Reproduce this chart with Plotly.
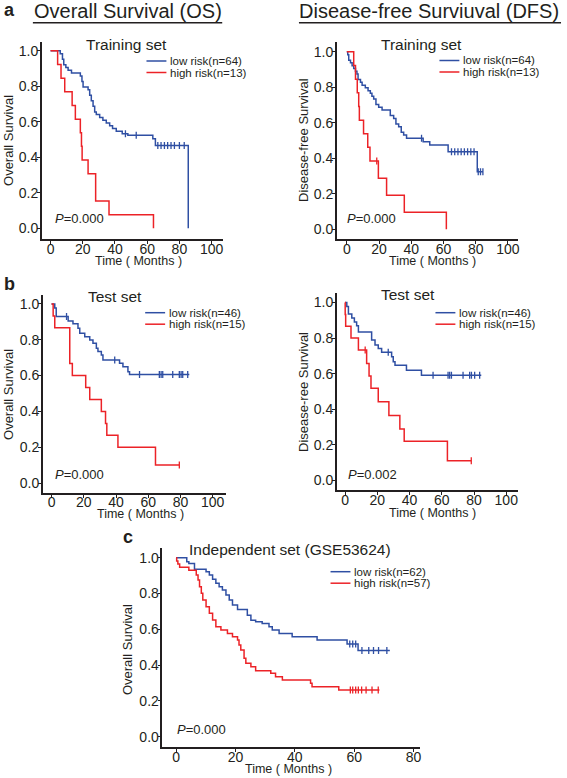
import plotly.graph_objects as go

W, H = 567, 778

# ---------------- data ----------------
x_ticks = [0, 20, 40, 60, 80, 100]
y_ticks = [0.0, 0.2, 0.4, 0.6, 0.8, 1.0]

# a: Training set, Overall Survival
os_train_low_t = [0, 6.0, 7.4, 8.2, 9.5, 10.9, 13.0, 18.5, 19.5, 20.2, 23.3, 24.3, 25.3, 26.4, 27.4, 28.4,
                  30.5, 32.5, 34.6, 36.7, 38.5, 40.8, 44.5, 48.0, 63.5, 65.1, 85.5]
os_train_low_s = [1.0, 0.984, 0.953, 0.922, 0.906, 0.891, 0.875, 0.859, 0.828, 0.797, 0.781, 0.750, 0.719,
                  0.688, 0.656, 0.641, 0.625, 0.609, 0.594, 0.578, 0.562, 0.547, 0.533, 0.524, 0.505, 0.467, 0.0]
os_train_low_cens = [46.5, 53.2, 66.6, 68.6, 70.7, 72.7, 74.8, 76.9, 80.0, 83.0]
os_train_high_t = [0, 4.4, 6.5, 8.8, 13.4, 15.4, 18.5, 19.2, 19.6, 23.3, 28.0, 36.3, 63.9]
os_train_high_s = [1.0, 0.923, 0.846, 0.769, 0.692, 0.615, 0.538, 0.462, 0.385, 0.308, 0.154, 0.077, 0.0]
os_train_high_cens = []

# a: Training set, Disease-free Survival
dfs_train_low_t = [0, 0.6, 1.2, 2.3, 3.3, 4.3, 5.4, 6.3, 7.0, 8.5, 9.5, 11.5, 13.2, 14.6, 15.6, 16.7, 18.1,
                   19.8, 21.9, 27.0, 29.1, 30.5, 32.2, 33.8, 35.3, 37.1, 47.4, 51.5, 62.9, 81.0, 84.5]
dfs_train_low_s = [1.0, 0.984, 0.953, 0.938, 0.922, 0.906, 0.891, 0.875, 0.844, 0.828, 0.812, 0.797, 0.781,
                   0.766, 0.750, 0.734, 0.703, 0.688, 0.672, 0.641, 0.625, 0.594, 0.578, 0.547, 0.531, 0.513,
                   0.494, 0.475, 0.437, 0.325, 0.325]
dfs_train_low_cens = [46.4, 65.0, 67.0, 69.0, 71.0, 73.0, 75.0, 77.0, 79.0, 81.6, 83.0, 84.5]
dfs_train_high_t = [0, 4.3, 5.4, 6.5, 7.4, 7.8, 10.4, 13.0, 14.4, 19.6, 24.7, 35.7, 61.8]
dfs_train_high_s = [1.0, 0.923, 0.846, 0.769, 0.692, 0.615, 0.538, 0.462, 0.385, 0.288, 0.192, 0.096, 0.0]
dfs_train_high_cens = [18.6]

# b: Test set, Overall Survival
os_test_low_t = [0, 2.0, 2.9, 10.3, 13.3, 16.4, 17.5, 20.6, 23.7, 25.7, 27.8, 28.8, 30.9, 31.9, 42.2, 44.3,
                 47.4, 48.4, 85.5]
os_test_low_s = [1.0, 0.978, 0.930, 0.905, 0.890, 0.864, 0.836, 0.817, 0.799, 0.780, 0.752, 0.734, 0.715,
                 0.687, 0.669, 0.650, 0.622, 0.606, 0.606]
os_test_low_cens = [9.3, 39.2, 54.6, 66.9, 68.0, 69.0, 75.2, 79.3, 80.4, 81.4, 84.5]
os_test_high_t = [0, 1.0, 2.0, 11.3, 12.9, 21.2, 23.7, 30.9, 33.5, 34.3, 41.2, 64.5, 79.3]
os_test_high_s = [1.0, 0.933, 0.867, 0.667, 0.600, 0.533, 0.467, 0.400, 0.333, 0.267, 0.200, 0.100, 0.100]
os_test_high_cens = [79.3]

# b: Test set, Disease-free Survival
dfs_test_low_t = [0, 1.1, 2.1, 4.2, 5.8, 7.2, 8.3, 16.5, 18.6, 20.6, 22.7, 28.9, 29.9, 31.0, 38.1, 47.4, 84.5]
dfs_test_low_s = [1.0, 0.978, 0.935, 0.913, 0.891, 0.870, 0.835, 0.789, 0.761, 0.742, 0.720, 0.695, 0.667,
                  0.648, 0.620, 0.592, 0.592]
dfs_test_low_cens = [26.8, 54.6, 63.9, 64.9, 66.0, 73.2, 77.3, 78.4, 80.4, 83.5]
dfs_test_high_t = [0, 0.1, 0.4, 3.7, 8.3, 13.4, 14.9, 16.1, 20.6, 27.2, 34.0, 36.7, 63.5, 78.3]
dfs_test_high_s = [1.0, 0.933, 0.867, 0.800, 0.733, 0.658, 0.587, 0.518, 0.443, 0.365, 0.290, 0.221, 0.111, 0.111]
dfs_test_high_cens = [12.5, 78.3]

# c: Independent set (GSE53624), Overall Survival
ind_low_t = [0, 3.6, 4.3, 6.2, 10.1, 11.2, 12.3, 13.4, 14.5, 15.6, 16.8, 17.9, 19.0, 20.7, 24.0, 25.2, 26.8,
             29.0, 31.3, 32.4, 34.7, 39.1, 47.5, 57.6, 61.3, 72.0]
ind_low_s = [1.0, 0.977, 0.968, 0.935, 0.922, 0.903, 0.879, 0.857, 0.838, 0.819, 0.791, 0.763, 0.735, 0.711,
             0.679, 0.651, 0.642, 0.633, 0.614, 0.596, 0.577, 0.558, 0.540, 0.518, 0.481, 0.481]
ind_low_cens = [58.5, 59.5, 60.5, 62.6, 64.9, 66.5, 68.2, 71.0]
ind_high_t = [0, 0.2, 0.6, 1.2, 4.3, 6.8, 7.4, 7.9, 8.5, 9.0, 10.1, 11.2, 12.3, 13.4, 15.1, 17.3, 19.0, 20.7,
              21.2, 21.8, 22.9, 23.5, 25.2, 26.8, 31.9, 33.5, 35.8, 45.3, 45.8, 54.8, 68.5]
ind_high_s = [1.0, 0.982, 0.965, 0.947, 0.930, 0.903, 0.875, 0.838, 0.801, 0.763, 0.726, 0.689, 0.652, 0.614,
              0.596, 0.577, 0.559, 0.540, 0.512, 0.484, 0.438, 0.410, 0.391, 0.369, 0.354, 0.335, 0.317, 0.298,
              0.279, 0.261, 0.261]
ind_high_cens = [58.7, 59.5, 60.5, 61.4, 62.5, 64.0, 66.0, 68.1]

# ---------------- styling ----------------
BLUE = "#2f4fa3"
RED = "#ec2227"
INK = "#231f20"
FONT = "Liberation Sans, Arial, Helvetica, sans-serif"


def px(x):
    return x / W


def py(y):
    return 1 - y / H


def surv_at(ts, ss, t):
    v = ss[0]
    for ti, si in zip(ts, ss):
        if ti <= t:
            v = si
    return v


panels = [
    dict(low=(os_train_low_t, os_train_low_s, os_train_low_cens),
         high=(os_train_high_t, os_train_high_s, os_train_high_cens),
         dom_x=(42, 224), dom_y=(42, 239), xr=[-5.4, 107.2], yr=[-0.06, 1.05],
         title="Training set", title_xy=(127, 44), ylab="Overall Survival", ylab_xy=(8, 140),
         xlab_xy=(139, 261), p="0.000", p_xy=(53, 219),
         leg=(147, 61), n=("64", "13"), xt=x_ticks),
    dict(low=(dfs_train_low_t, dfs_train_low_s, dfs_train_low_cens),
         high=(dfs_train_high_t, dfs_train_high_s, dfs_train_high_cens),
         dom_x=(338, 519.7), dom_y=(41.7, 239.3), xr=[-6.2, 106.2], yr=[-0.056, 1.057],
         title="Training set", title_xy=(423, 44), ylab="Disease-free Survival", ylab_xy=(304, 140),
         xlab_xy=(434.5, 261), p="0.000", p_xy=(346, 219),
         leg=(441, 60.5), n=("64", "13"), xt=x_ticks),
    dict(low=(os_test_low_t, os_test_low_s, os_test_low_cens),
         high=(os_test_high_t, os_test_high_s, os_test_high_cens),
         dom_x=(43, 226.7), dom_y=(295, 492.7), xr=[-5.4, 108.2], yr=[-0.054, 1.05],
         title="Test set", title_xy=(115, 297), ylab="Overall Survival", ylab_xy=(8, 394),
         xlab_xy=(140.7, 514), p="0.000", p_xy=(53, 474),
         leg=(145.7, 312.7), n=("46", "15"), xt=x_ticks),
    dict(low=(dfs_test_low_t, dfs_test_low_s, dfs_test_low_cens),
         high=(dfs_test_high_t, dfs_test_high_s, dfs_test_high_cens),
         dom_x=(338, 519.7), dom_y=(292.7, 490), xr=[-5.1, 107.2], yr=[-0.053, 1.055],
         title="Test set", title_xy=(409, 294), ylab="Disease-ree Survival", ylab_xy=(304, 392),
         xlab_xy=(434.5, 513), p="0.002", p_xy=(347, 474),
         leg=(437, 312.7), n=("46", "15"), xt=x_ticks),
    dict(low=(ind_low_t, ind_low_s, ind_low_cens),
         high=(ind_high_t, ind_high_s, ind_high_cens),
         dom_x=(163, 421), dom_y=(548, 747.3), xr=[-4.6, 82], yr=[-0.059, 1.054],
         title="Independent set (GSE53624)", title_xy=(291.5, 549), ylab="Overall Survival",
         ylab_xy=(127.5, 650), xlab_xy=(290, 769), p="0.000", p_xy=(176, 729.5),
         leg=(331.7, 571.7), n=("62", "57"), xt=x_ticks[:5]),
]

fig = go.Figure()
annotations = []
shapes = []

for i, pnl in enumerate(panels):
    k = "" if i == 0 else str(i + 1)
    xa, ya = "x" + k, "y" + k
    for grp, col in (("low", BLUE), ("high", RED)):
        ts, ss, cens = pnl[grp]
        fig.add_trace(go.Scatter(x=ts, y=ss, mode="lines", line=dict(color=col, width=1.5, shape="hv"),
                                 xaxis=xa, yaxis=ya, showlegend=False,
                                 name=("low risk" if grp == "low" else "high risk")))
        if cens:
            fig.add_trace(go.Scatter(x=cens, y=[surv_at(ts, ss, c) for c in cens], mode="markers",
                                     marker=dict(symbol="line-ns", size=5, line=dict(color=col, width=1.3)),
                                     xaxis=xa, yaxis=ya, showlegend=False, hoverinfo="skip"))
    axis_common = dict(showline=True, linecolor=INK, linewidth=1.6, ticks="outside", ticklen=3,
                       tickwidth=1.2, tickcolor=INK, showgrid=False, zeroline=False,
                       tickfont=dict(family=FONT, size=14, color=INK))
    fig.update_layout({
        "xaxis" + k: dict(domain=[px(pnl["dom_x"][0]), px(pnl["dom_x"][1])], range=pnl["xr"],
                          anchor=ya, tickvals=pnl["xt"], ticklabelstandoff=-7, **axis_common),
        "yaxis" + k: dict(domain=[py(pnl["dom_y"][1]), py(pnl["dom_y"][0])], range=pnl["yr"],
                          anchor=xa, tickvals=y_ticks, tickformat=".1f", ticklabelstandoff=-4,
                          **axis_common),
    })
    # subplot title
    annotations.append(dict(text=pnl["title"], x=px(pnl["title_xy"][0]), y=py(pnl["title_xy"][1]),
                            font=dict(family=FONT, size=15.5, color=INK)))
    # axis titles
    annotations.append(dict(text=pnl["ylab"], x=px(pnl["ylab_xy"][0]), y=py(pnl["ylab_xy"][1]), textangle=-90,
                            font=dict(family=FONT, size=13, color=INK)))
    annotations.append(dict(text="Time ( Months )", x=px(pnl["xlab_xy"][0]), y=py(pnl["xlab_xy"][1]),
                            font=dict(family=FONT, size=12.5, color=INK)))
    # P value
    annotations.append(dict(text="<i>P</i>=" + pnl["p"], x=px(pnl["p_xy"][0]), y=py(pnl["p_xy"][1]),
                            xanchor="left", font=dict(family=FONT, size=13, color=INK)))
    # legend (drawn manually to match the compact original)
    lx, ly = pnl["leg"]
    for j, (lab, col) in enumerate((("low risk(n=%s)" % pnl["n"][0], BLUE),
                                    ("high risk(n=%s)" % pnl["n"][1], RED))):
        yy = ly + j * 11.5
        shapes.append(dict(type="line", xref="paper", yref="paper", x0=px(lx), x1=px(lx + 20),
                           y0=py(yy), y1=py(yy), line=dict(color=col, width=1.5)))
        annotations.append(dict(text=lab, x=px(lx + 21.5), y=py(yy), xanchor="left",
                                font=dict(family=FONT, size=11.5, color=INK)))

# headers
annotations.append(dict(text="<b>a</b>", x=px(10), y=py(10), font=dict(family=FONT, size=18, color=INK)))
annotations.append(dict(text="<b>b</b>", x=px(10), y=py(284), font=dict(family=FONT, size=18, color=INK)))
annotations.append(dict(text="<b>c</b>", x=px(128), y=py(537), font=dict(family=FONT, size=18, color=INK)))
annotations.append(dict(text="Overall Survival (OS)", x=px(128), y=py(11),
                        font=dict(family=FONT, size=20, color=INK)))
annotations.append(dict(text="Disease-free Surviuval (DFS)", x=px(430.5), y=py(11),
                        font=dict(family=FONT, size=20, color=INK)))
shapes.append(dict(type="line", xref="paper", yref="paper", x0=px(33), x1=px(223), y0=py(22.7), y1=py(22.7),
                   line=dict(color=INK, width=1.5)))
shapes.append(dict(type="line", xref="paper", yref="paper", x0=px(300), x1=px(563), y0=py(22.7), y1=py(22.7),
                   line=dict(color=INK, width=1.5)))

for a in annotations:
    a.setdefault("xref", "paper")
    a.setdefault("yref", "paper")
    a.setdefault("xanchor", "center")
    a.setdefault("yanchor", "middle")
    a["showarrow"] = False

fig.update_layout(width=W, height=H, margin=dict(l=0, r=0, t=0, b=0), paper_bgcolor="white",
                  plot_bgcolor="white", annotations=annotations, shapes=shapes, showlegend=False,
                  font=dict(family=FONT, color=INK))

fig.write_html("out.html", config={"displayModeBar": False},
               post_script="document.body.style.margin='0px';document.body.style.padding='0px';")
